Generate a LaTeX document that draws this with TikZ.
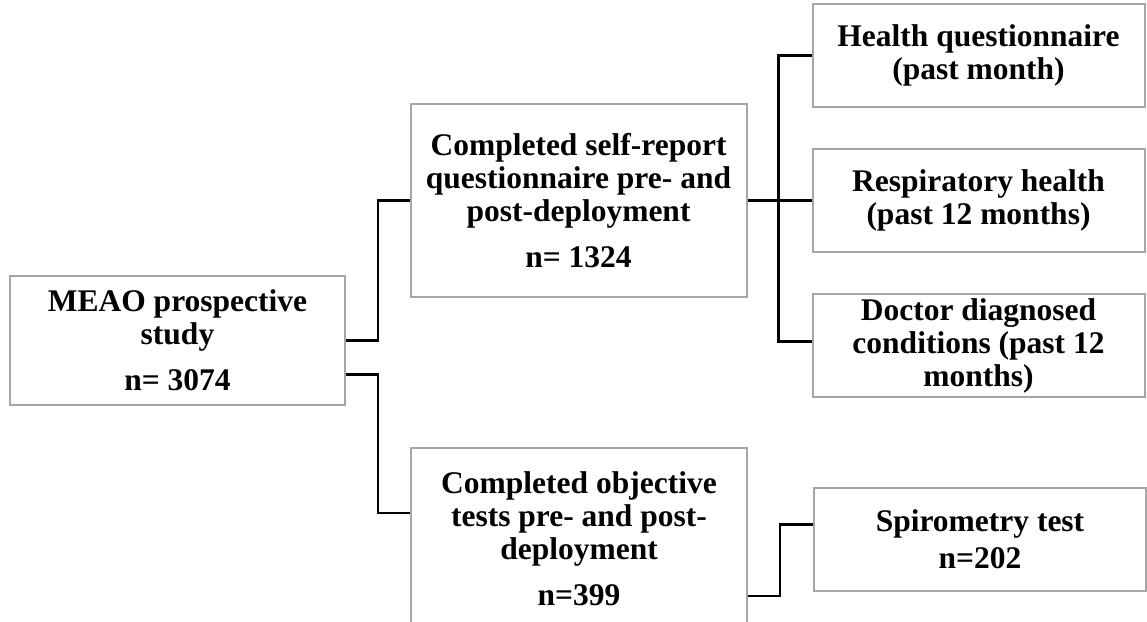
\documentclass[tikz,border=0pt]{standalone}
\usepackage{fontspec}
\setmainfont{Liberation Serif}
\usepackage{tikz}
\usetikzlibrary{positioning}
\definecolor{boxgray}{HTML}{A6A6A6}

\begin{document}
\begin{tikzpicture}[
  x=1pt,y=-1pt,
  node distance=40pt and 64pt,
  box/.style={draw=boxgray,line width=2pt,fill=white,align=center,inner sep=2pt,font=\fontsize{31.5}{33}\selectfont\bfseries},
  stage/.style={box,minimum width=336pt,minimum height=193pt},
  outcome/.style={box,minimum width=332pt,minimum height=103pt},
  link/.style={line width=2.5pt}
]
\useasboundingbox (0,0) rectangle (1147,621);
\node[box,minimum width=335pt,minimum height=129pt] (meao) at (177.5,340.5) {MEAO prospective\\study\\[13pt]n= 3074};
\node[stage] (selfrep) at (578.5,200.5) {Completed self-report\\questionnaire pre- and\\post-deployment\\[13pt]n= 1324};
\node[stage,minimum height=182pt] (objtest) at (579,539) {Completed objective\\tests pre- and post-\\deployment\\[13pt]n=399};
\node[outcome,right=64pt of selfrep] (resp) {Respiratory health\\(past 12 months)};
\node[outcome,above=of resp] (health) {Health questionnaire\\(past month)};
\node[outcome,below=of resp] (doctor) {Doctor diagnosed\\conditions (past 12\\months)};
\node[outcome,right=65pt of objtest] (spiro) {Spirometry test\\[4pt]n=202};
% study -> two arms
\draw[link] (meao.east) -- ++(32,0) |- (selfrep.west);
\draw[link] ([yshift=-34pt]meao.east) -- ++(32,0) |- ([yshift=-66pt]objtest.north west);
% self-report -> outcomes
\draw[link,line width=3.5pt] (selfrep.east) -- ++(31,0) coordinate (hub);
\draw[link] (hub) |- (health.west);
\draw[link] (hub) -- (resp.west);
\draw[link] (hub) |- ([yshift=4pt]doctor.west);
% objective tests -> spirometry
\draw[link] ([yshift=-149pt]objtest.north east) -- ++(32,0) |- ([yshift=-38pt]spiro.north west);
\end{tikzpicture}
\end{document}
